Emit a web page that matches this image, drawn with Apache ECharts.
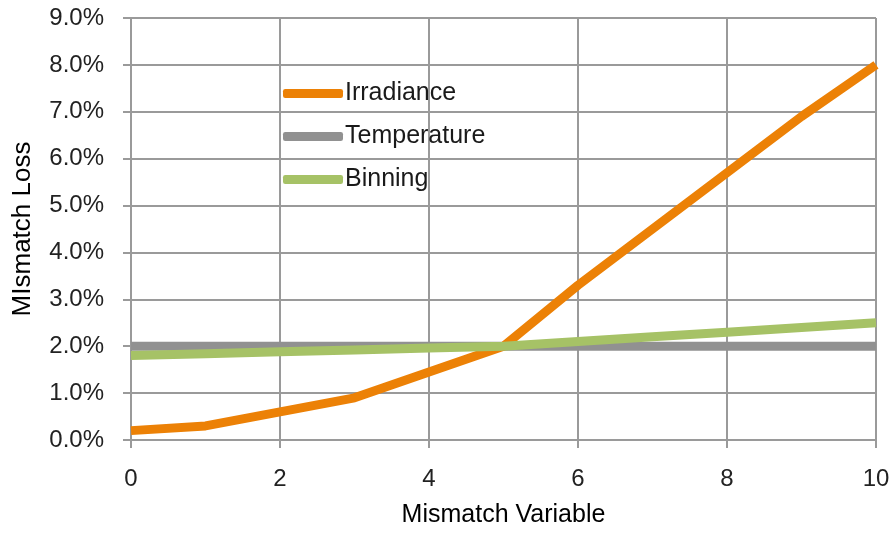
<!DOCTYPE html>
<html><head><meta charset="utf-8">
<script src="https://cdn.jsdelivr.net/npm/echarts@6/dist/echarts.min.js"></script>
<style>html,body{margin:0;padding:0;background:#fff}#c{width:893px;height:533px}</style>
</head><body><div id="c"></div>
<script>
const xValues = [0,1,2,3,4,5,6,7,8,9,10];
const irradiance = [0.2,0.3,0.6,0.9,1.45,2.0,3.3,4.5,5.7,6.9,8.0];
const temperature = [2.0,2.0,2.0,2.0,2.0,2.0,2.0,2.0,2.0,2.0,2.0];
const binning = [1.8,1.84,1.88,1.92,1.96,2.0,2.1,2.2,2.3,2.4,2.5];
const seriesNames = ['Irradiance','Temperature','Binning'];
const xTitle = 'Mismatch Variable';
const yTitle = 'MIsmatch Loss';

const FONT = 'Liberation Sans';
const pair = a => xValues.map((x,i)=>[x,a[i]]);
const chart = echarts.init(document.getElementById('c'));
chart.setOption({
  animation:false,
  textStyle:{fontFamily:FONT},
  grid:{left:131,right:17,top:18,bottom:90},
  legend:{
    orient:'vertical', left:278, top:76, itemGap:18, itemWidth:60, itemHeight:9,
    data:seriesNames.map(n=>({name:n, icon:'roundRect'})),
    textStyle:{fontSize:25,color:'#1a1a1a',fontFamily:FONT,padding:[0,0,0,-3]}
  },
  xAxis:{
    type:'value', min:0, max:10, interval:2,
    name:xTitle, nameLocation:'middle', nameGap:63,
    nameTextStyle:{fontSize:25,color:'#000',fontFamily:FONT},
    axisLine:{lineStyle:{color:'#9a9a9a',width:2}},
    axisTick:{show:true,length:8,lineStyle:{color:'#9a9a9a',width:2}},
    axisLabel:{fontSize:24,color:'#222',margin:27},
    splitLine:{show:true,lineStyle:{color:'#9a9a9a',width:2}}
  },
  yAxis:{
    type:'value', min:0, max:9, interval:1,
    name:yTitle, nameLocation:'middle', nameGap:95,
    nameTextStyle:{fontSize:26,color:'#000',fontFamily:FONT},
    axisLine:{show:true,lineStyle:{color:'#9a9a9a',width:2}},
    axisTick:{show:true,length:8,lineStyle:{color:'#9a9a9a',width:2}},
    axisLabel:{fontSize:24,color:'#222',margin:27,formatter:v=>v.toFixed(1)+'%'},
    splitLine:{show:true,lineStyle:{color:'#9a9a9a',width:2}}
  },
  series:[
    {name:seriesNames[0],type:'line',data:pair(irradiance),showSymbol:false,z:3,
     lineStyle:{width:9,color:'#ec8106'},itemStyle:{color:'#ec8106'}},
    {name:seriesNames[1],type:'line',data:pair(temperature),showSymbol:false,z:2,
     lineStyle:{width:9,color:'#919191'},itemStyle:{color:'#919191'}},
    {name:seriesNames[2],type:'line',data:pair(binning),showSymbol:false,z:4,
     lineStyle:{width:9,color:'#a6c266'},itemStyle:{color:'#a6c266'}}
  ]
});
</script></body></html>
